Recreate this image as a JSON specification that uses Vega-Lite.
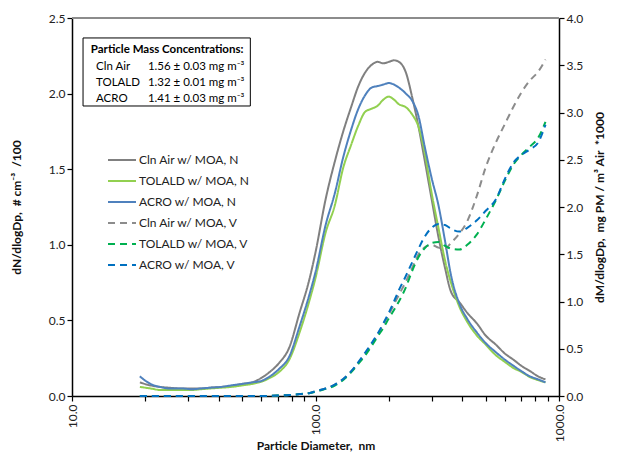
{
  "$schema": "https://vega.github.io/schema/vega-lite/v6.json",
  "width": 487,
  "height": 378,
  "autosize": {"type": "none"},
  "padding": {"left": 72, "top": 18, "right": 62, "bottom": 65},
  "background": "white",
  "config": {
    "view": {"stroke": null},
    "font": "Lato",
    "axis": {
      "domainColor": "black", "domainWidth": 1.5, "tickColor": "black", "tickWidth": 1.2, "tickSize": 5,
      "labelFont": "Lato", "labelFontSize": 12, "labelColor": "#222",
      "titleFont": "Lato", "titleFontSize": 12, "titleFontWeight": "bold", "titleColor": "#111",
      "grid": false, "labelOverlap": false, "labelBound": false, "labelFlush": false
    },
    "legend": {"labelFont": "Lato", "labelFontSize": 12, "labelColor": "#222"},
    "text": {"font": "Lato", "fontSize": 11.5, "align": "left", "baseline": "middle", "color": "black"}
  },
  "datasets": {
    "N": [
      {"d":19,"s":"Cln Air w/ MOA, N","v":0.09},{"d":21,"s":"Cln Air w/ MOA, N","v":0.07},{"d":23,"s":"Cln Air w/ MOA, N","v":0.06},{"d":25,"s":"Cln Air w/ MOA, N","v":0.055},{"d":28,"s":"Cln Air w/ MOA, N","v":0.05},{"d":31,"s":"Cln Air w/ MOA, N","v":0.05},{"d":34,"s":"Cln Air w/ MOA, N","v":0.05},{"d":37,"s":"Cln Air w/ MOA, N","v":0.055},{"d":41,"s":"Cln Air w/ MOA, N","v":0.06},{"d":45,"s":"Cln Air w/ MOA, N","v":0.065},{"d":50,"s":"Cln Air w/ MOA, N","v":0.08},{"d":55,"s":"Cln Air w/ MOA, N","v":0.09},{"d":60,"s":"Cln Air w/ MOA, N","v":0.12},{"d":65,"s":"Cln Air w/ MOA, N","v":0.16},{"d":71,"s":"Cln Air w/ MOA, N","v":0.22},{"d":78,"s":"Cln Air w/ MOA, N","v":0.32},{"d":86,"s":"Cln Air w/ MOA, N","v":0.55},{"d":94,"s":"Cln Air w/ MOA, N","v":0.76},{"d":100,"s":"Cln Air w/ MOA, N","v":0.95},{"d":110,"s":"Cln Air w/ MOA, N","v":1.3},{"d":120,"s":"Cln Air w/ MOA, N","v":1.55},{"d":130,"s":"Cln Air w/ MOA, N","v":1.75},{"d":140,"s":"Cln Air w/ MOA, N","v":1.91},{"d":150,"s":"Cln Air w/ MOA, N","v":2.05},{"d":160,"s":"Cln Air w/ MOA, N","v":2.14},{"d":170,"s":"Cln Air w/ MOA, N","v":2.19},{"d":180,"s":"Cln Air w/ MOA, N","v":2.21},{"d":190,"s":"Cln Air w/ MOA, N","v":2.2},{"d":200,"s":"Cln Air w/ MOA, N","v":2.21},{"d":210,"s":"Cln Air w/ MOA, N","v":2.22},{"d":220,"s":"Cln Air w/ MOA, N","v":2.21},{"d":235,"s":"Cln Air w/ MOA, N","v":2.14},{"d":250,"s":"Cln Air w/ MOA, N","v":1.97},{"d":265,"s":"Cln Air w/ MOA, N","v":1.78},{"d":280,"s":"Cln Air w/ MOA, N","v":1.57},{"d":300,"s":"Cln Air w/ MOA, N","v":1.3},{"d":320,"s":"Cln Air w/ MOA, N","v":1.05},{"d":340,"s":"Cln Air w/ MOA, N","v":0.85},{"d":360,"s":"Cln Air w/ MOA, N","v":0.69},{"d":390,"s":"Cln Air w/ MOA, N","v":0.62},{"d":420,"s":"Cln Air w/ MOA, N","v":0.55},{"d":460,"s":"Cln Air w/ MOA, N","v":0.48},{"d":500,"s":"Cln Air w/ MOA, N","v":0.4},{"d":550,"s":"Cln Air w/ MOA, N","v":0.34},{"d":600,"s":"Cln Air w/ MOA, N","v":0.28},{"d":650,"s":"Cln Air w/ MOA, N","v":0.24},{"d":700,"s":"Cln Air w/ MOA, N","v":0.2},{"d":760,"s":"Cln Air w/ MOA, N","v":0.165},{"d":820,"s":"Cln Air w/ MOA, N","v":0.13},{"d":880,"s":"Cln Air w/ MOA, N","v":0.11},

      {"d":19,"s":"TOLALD w/ MOA, N","v":0.06},{"d":21,"s":"TOLALD w/ MOA, N","v":0.05},{"d":23,"s":"TOLALD w/ MOA, N","v":0.04},{"d":25,"s":"TOLALD w/ MOA, N","v":0.04},{"d":28,"s":"TOLALD w/ MOA, N","v":0.04},{"d":31,"s":"TOLALD w/ MOA, N","v":0.04},{"d":34,"s":"TOLALD w/ MOA, N","v":0.045},{"d":37,"s":"TOLALD w/ MOA, N","v":0.05},{"d":41,"s":"TOLALD w/ MOA, N","v":0.055},{"d":45,"s":"TOLALD w/ MOA, N","v":0.06},{"d":50,"s":"TOLALD w/ MOA, N","v":0.07},{"d":55,"s":"TOLALD w/ MOA, N","v":0.08},{"d":60,"s":"TOLALD w/ MOA, N","v":0.095},{"d":65,"s":"TOLALD w/ MOA, N","v":0.12},{"d":71,"s":"TOLALD w/ MOA, N","v":0.16},{"d":78,"s":"TOLALD w/ MOA, N","v":0.24},{"d":86,"s":"TOLALD w/ MOA, N","v":0.42},{"d":94,"s":"TOLALD w/ MOA, N","v":0.62},{"d":100,"s":"TOLALD w/ MOA, N","v":0.78},{"d":110,"s":"TOLALD w/ MOA, N","v":1.08},{"d":120,"s":"TOLALD w/ MOA, N","v":1.26},{"d":130,"s":"TOLALD w/ MOA, N","v":1.51},{"d":140,"s":"TOLALD w/ MOA, N","v":1.66},{"d":150,"s":"TOLALD w/ MOA, N","v":1.79},{"d":160,"s":"TOLALD w/ MOA, N","v":1.88},{"d":170,"s":"TOLALD w/ MOA, N","v":1.9},{"d":180,"s":"TOLALD w/ MOA, N","v":1.92},{"d":190,"s":"TOLALD w/ MOA, N","v":1.96},{"d":200,"s":"TOLALD w/ MOA, N","v":1.98},{"d":210,"s":"TOLALD w/ MOA, N","v":1.96},{"d":220,"s":"TOLALD w/ MOA, N","v":1.93},{"d":235,"s":"TOLALD w/ MOA, N","v":1.91},{"d":250,"s":"TOLALD w/ MOA, N","v":1.86},{"d":265,"s":"TOLALD w/ MOA, N","v":1.78},{"d":280,"s":"TOLALD w/ MOA, N","v":1.62},{"d":300,"s":"TOLALD w/ MOA, N","v":1.34},{"d":320,"s":"TOLALD w/ MOA, N","v":1.11},{"d":340,"s":"TOLALD w/ MOA, N","v":0.9},{"d":360,"s":"TOLALD w/ MOA, N","v":0.75},{"d":390,"s":"TOLALD w/ MOA, N","v":0.59},{"d":420,"s":"TOLALD w/ MOA, N","v":0.49},{"d":460,"s":"TOLALD w/ MOA, N","v":0.4},{"d":500,"s":"TOLALD w/ MOA, N","v":0.34},{"d":550,"s":"TOLALD w/ MOA, N","v":0.27},{"d":600,"s":"TOLALD w/ MOA, N","v":0.225},{"d":650,"s":"TOLALD w/ MOA, N","v":0.185},{"d":700,"s":"TOLALD w/ MOA, N","v":0.16},{"d":760,"s":"TOLALD w/ MOA, N","v":0.125},{"d":820,"s":"TOLALD w/ MOA, N","v":0.105},{"d":880,"s":"TOLALD w/ MOA, N","v":0.09},

      {"d":19,"s":"ACRO w/ MOA, N","v":0.13},{"d":21,"s":"ACRO w/ MOA, N","v":0.08},{"d":23,"s":"ACRO w/ MOA, N","v":0.06},{"d":25,"s":"ACRO w/ MOA, N","v":0.05},{"d":28,"s":"ACRO w/ MOA, N","v":0.05},{"d":31,"s":"ACRO w/ MOA, N","v":0.045},{"d":34,"s":"ACRO w/ MOA, N","v":0.05},{"d":37,"s":"ACRO w/ MOA, N","v":0.055},{"d":41,"s":"ACRO w/ MOA, N","v":0.06},{"d":45,"s":"ACRO w/ MOA, N","v":0.07},{"d":50,"s":"ACRO w/ MOA, N","v":0.08},{"d":55,"s":"ACRO w/ MOA, N","v":0.09},{"d":60,"s":"ACRO w/ MOA, N","v":0.1},{"d":65,"s":"ACRO w/ MOA, N","v":0.13},{"d":71,"s":"ACRO w/ MOA, N","v":0.18},{"d":78,"s":"ACRO w/ MOA, N","v":0.26},{"d":86,"s":"ACRO w/ MOA, N","v":0.46},{"d":94,"s":"ACRO w/ MOA, N","v":0.66},{"d":100,"s":"ACRO w/ MOA, N","v":0.82},{"d":110,"s":"ACRO w/ MOA, N","v":1.13},{"d":120,"s":"ACRO w/ MOA, N","v":1.34},{"d":130,"s":"ACRO w/ MOA, N","v":1.58},{"d":140,"s":"ACRO w/ MOA, N","v":1.76},{"d":150,"s":"ACRO w/ MOA, N","v":1.9},{"d":160,"s":"ACRO w/ MOA, N","v":1.99},{"d":170,"s":"ACRO w/ MOA, N","v":2.04},{"d":180,"s":"ACRO w/ MOA, N","v":2.05},{"d":190,"s":"ACRO w/ MOA, N","v":2.06},{"d":200,"s":"ACRO w/ MOA, N","v":2.07},{"d":210,"s":"ACRO w/ MOA, N","v":2.06},{"d":220,"s":"ACRO w/ MOA, N","v":2.04},{"d":235,"s":"ACRO w/ MOA, N","v":2.0},{"d":250,"s":"ACRO w/ MOA, N","v":1.95},{"d":265,"s":"ACRO w/ MOA, N","v":1.85},{"d":280,"s":"ACRO w/ MOA, N","v":1.66},{"d":300,"s":"ACRO w/ MOA, N","v":1.44},{"d":320,"s":"ACRO w/ MOA, N","v":1.26},{"d":340,"s":"ACRO w/ MOA, N","v":1.03},{"d":360,"s":"ACRO w/ MOA, N","v":0.8},{"d":390,"s":"ACRO w/ MOA, N","v":0.61},{"d":420,"s":"ACRO w/ MOA, N","v":0.51},{"d":460,"s":"ACRO w/ MOA, N","v":0.42},{"d":500,"s":"ACRO w/ MOA, N","v":0.35},{"d":550,"s":"ACRO w/ MOA, N","v":0.29},{"d":600,"s":"ACRO w/ MOA, N","v":0.24},{"d":650,"s":"ACRO w/ MOA, N","v":0.2},{"d":700,"s":"ACRO w/ MOA, N","v":0.165},{"d":760,"s":"ACRO w/ MOA, N","v":0.13},{"d":820,"s":"ACRO w/ MOA, N","v":0.11},{"d":880,"s":"ACRO w/ MOA, N","v":0.09}
    ],
    "V": [
      {"d":19,"s":"Cln Air w/ MOA, V","v":0},{"d":30,"s":"Cln Air w/ MOA, V","v":0},{"d":45,"s":"Cln Air w/ MOA, V","v":0},{"d":60,"s":"Cln Air w/ MOA, V","v":0},{"d":71,"s":"Cln Air w/ MOA, V","v":0.005},{"d":78,"s":"Cln Air w/ MOA, V","v":0.01},{"d":86,"s":"Cln Air w/ MOA, V","v":0.02},{"d":94,"s":"Cln Air w/ MOA, V","v":0.03},{"d":100,"s":"Cln Air w/ MOA, V","v":0.05},{"d":110,"s":"Cln Air w/ MOA, V","v":0.08},{"d":120,"s":"Cln Air w/ MOA, V","v":0.12},{"d":130,"s":"Cln Air w/ MOA, V","v":0.18},{"d":140,"s":"Cln Air w/ MOA, V","v":0.26},{"d":150,"s":"Cln Air w/ MOA, V","v":0.35},{"d":160,"s":"Cln Air w/ MOA, V","v":0.45},{"d":170,"s":"Cln Air w/ MOA, V","v":0.55},{"d":180,"s":"Cln Air w/ MOA, V","v":0.65},{"d":190,"s":"Cln Air w/ MOA, V","v":0.76},{"d":200,"s":"Cln Air w/ MOA, V","v":0.86},{"d":210,"s":"Cln Air w/ MOA, V","v":0.97},{"d":220,"s":"Cln Air w/ MOA, V","v":1.07},{"d":235,"s":"Cln Air w/ MOA, V","v":1.21},{"d":250,"s":"Cln Air w/ MOA, V","v":1.36},{"d":265,"s":"Cln Air w/ MOA, V","v":1.5},{"d":280,"s":"Cln Air w/ MOA, V","v":1.57},{"d":300,"s":"Cln Air w/ MOA, V","v":1.6},{"d":320,"s":"Cln Air w/ MOA, V","v":1.57},{"d":340,"s":"Cln Air w/ MOA, V","v":1.56},{"d":360,"s":"Cln Air w/ MOA, V","v":1.62},{"d":390,"s":"Cln Air w/ MOA, V","v":1.72},{"d":420,"s":"Cln Air w/ MOA, V","v":1.85},{"d":460,"s":"Cln Air w/ MOA, V","v":2.12},{"d":500,"s":"Cln Air w/ MOA, V","v":2.42},{"d":550,"s":"Cln Air w/ MOA, V","v":2.68},{"d":600,"s":"Cln Air w/ MOA, V","v":2.88},{"d":650,"s":"Cln Air w/ MOA, V","v":3.06},{"d":700,"s":"Cln Air w/ MOA, V","v":3.21},{"d":760,"s":"Cln Air w/ MOA, V","v":3.34},{"d":820,"s":"Cln Air w/ MOA, V","v":3.43},{"d":880,"s":"Cln Air w/ MOA, V","v":3.56},

      {"d":19,"s":"TOLALD w/ MOA, V","v":0},{"d":30,"s":"TOLALD w/ MOA, V","v":0},{"d":45,"s":"TOLALD w/ MOA, V","v":0},{"d":60,"s":"TOLALD w/ MOA, V","v":0},{"d":71,"s":"TOLALD w/ MOA, V","v":0.005},{"d":78,"s":"TOLALD w/ MOA, V","v":0.01},{"d":86,"s":"TOLALD w/ MOA, V","v":0.02},{"d":94,"s":"TOLALD w/ MOA, V","v":0.03},{"d":100,"s":"TOLALD w/ MOA, V","v":0.045},{"d":110,"s":"TOLALD w/ MOA, V","v":0.075},{"d":120,"s":"TOLALD w/ MOA, V","v":0.11},{"d":130,"s":"TOLALD w/ MOA, V","v":0.17},{"d":140,"s":"TOLALD w/ MOA, V","v":0.25},{"d":150,"s":"TOLALD w/ MOA, V","v":0.34},{"d":160,"s":"TOLALD w/ MOA, V","v":0.43},{"d":170,"s":"TOLALD w/ MOA, V","v":0.53},{"d":180,"s":"TOLALD w/ MOA, V","v":0.63},{"d":190,"s":"TOLALD w/ MOA, V","v":0.72},{"d":200,"s":"TOLALD w/ MOA, V","v":0.82},{"d":210,"s":"TOLALD w/ MOA, V","v":0.91},{"d":220,"s":"TOLALD w/ MOA, V","v":1.0},{"d":235,"s":"TOLALD w/ MOA, V","v":1.15},{"d":250,"s":"TOLALD w/ MOA, V","v":1.33},{"d":265,"s":"TOLALD w/ MOA, V","v":1.47},{"d":280,"s":"TOLALD w/ MOA, V","v":1.56},{"d":300,"s":"TOLALD w/ MOA, V","v":1.62},{"d":320,"s":"TOLALD w/ MOA, V","v":1.63},{"d":340,"s":"TOLALD w/ MOA, V","v":1.59},{"d":360,"s":"TOLALD w/ MOA, V","v":1.56},{"d":390,"s":"TOLALD w/ MOA, V","v":1.55},{"d":420,"s":"TOLALD w/ MOA, V","v":1.6},{"d":460,"s":"TOLALD w/ MOA, V","v":1.71},{"d":500,"s":"TOLALD w/ MOA, V","v":1.87},{"d":550,"s":"TOLALD w/ MOA, V","v":2.07},{"d":600,"s":"TOLALD w/ MOA, V","v":2.28},{"d":650,"s":"TOLALD w/ MOA, V","v":2.45},{"d":700,"s":"TOLALD w/ MOA, V","v":2.55},{"d":760,"s":"TOLALD w/ MOA, V","v":2.64},{"d":820,"s":"TOLALD w/ MOA, V","v":2.73},{"d":880,"s":"TOLALD w/ MOA, V","v":2.9},

      {"d":19,"s":"ACRO w/ MOA, V","v":0},{"d":30,"s":"ACRO w/ MOA, V","v":0},{"d":45,"s":"ACRO w/ MOA, V","v":0},{"d":60,"s":"ACRO w/ MOA, V","v":0},{"d":71,"s":"ACRO w/ MOA, V","v":0.005},{"d":78,"s":"ACRO w/ MOA, V","v":0.01},{"d":86,"s":"ACRO w/ MOA, V","v":0.02},{"d":94,"s":"ACRO w/ MOA, V","v":0.03},{"d":100,"s":"ACRO w/ MOA, V","v":0.05},{"d":110,"s":"ACRO w/ MOA, V","v":0.08},{"d":120,"s":"ACRO w/ MOA, V","v":0.12},{"d":130,"s":"ACRO w/ MOA, V","v":0.18},{"d":140,"s":"ACRO w/ MOA, V","v":0.26},{"d":150,"s":"ACRO w/ MOA, V","v":0.36},{"d":160,"s":"ACRO w/ MOA, V","v":0.46},{"d":170,"s":"ACRO w/ MOA, V","v":0.56},{"d":180,"s":"ACRO w/ MOA, V","v":0.66},{"d":190,"s":"ACRO w/ MOA, V","v":0.77},{"d":200,"s":"ACRO w/ MOA, V","v":0.88},{"d":210,"s":"ACRO w/ MOA, V","v":1.0},{"d":220,"s":"ACRO w/ MOA, V","v":1.12},{"d":235,"s":"ACRO w/ MOA, V","v":1.27},{"d":250,"s":"ACRO w/ MOA, V","v":1.42},{"d":265,"s":"ACRO w/ MOA, V","v":1.56},{"d":280,"s":"ACRO w/ MOA, V","v":1.68},{"d":300,"s":"ACRO w/ MOA, V","v":1.78},{"d":320,"s":"ACRO w/ MOA, V","v":1.82},{"d":340,"s":"ACRO w/ MOA, V","v":1.81},{"d":360,"s":"ACRO w/ MOA, V","v":1.77},{"d":390,"s":"ACRO w/ MOA, V","v":1.74},{"d":420,"s":"ACRO w/ MOA, V","v":1.78},{"d":460,"s":"ACRO w/ MOA, V","v":1.86},{"d":500,"s":"ACRO w/ MOA, V","v":1.96},{"d":550,"s":"ACRO w/ MOA, V","v":2.08},{"d":600,"s":"ACRO w/ MOA, V","v":2.3},{"d":650,"s":"ACRO w/ MOA, V","v":2.47},{"d":700,"s":"ACRO w/ MOA, V","v":2.55},{"d":760,"s":"ACRO w/ MOA, V","v":2.61},{"d":820,"s":"ACRO w/ MOA, V","v":2.68},{"d":880,"s":"ACRO w/ MOA, V","v":2.87}
    ],
    "one": [{}]
  },
  "layer": [
    {
      "layer": [
        {
          "data": {"name": "one"},
          "mark": {"type": "rule", "color": "#8c8c8c", "strokeWidth": 2},
          "encoding": {"y": {"datum": 2.5, "type": "quantitative"}}
        },
        {
          "data": {"name": "one"},
          "mark": {"type": "rect", "fill": "white", "stroke": "black", "strokeWidth": 1},
          "encoding": {
            "x": {"datum": 11.1, "type": "quantitative"},
            "x2": {"datum": 54},
            "y": {"datum": 2.368, "type": "quantitative"},
            "y2": {"datum": 1.918}
          }
        },
        {
          "data": {"name": "one"},
          "mark": {"type": "text", "fontWeight": "bold", "text": "Particle Mass Concentrations:"},
          "encoding": {"x": {"datum": 11.95, "type": "quantitative"}, "y": {"datum": 2.288, "type": "quantitative"}}
        },
        {
          "data": {"name": "one"},
          "mark": {"type": "text", "text": "Cln Air"},
          "encoding": {"x": {"datum": 12.55, "type": "quantitative"}, "y": {"datum": 2.176, "type": "quantitative"}}
        },
        {
          "data": {"name": "one"},
          "mark": {"type": "text", "text": "TOLALD"},
          "encoding": {"x": {"datum": 12.55, "type": "quantitative"}, "y": {"datum": 2.07, "type": "quantitative"}}
        },
        {
          "data": {"name": "one"},
          "mark": {"type": "text", "text": "ACRO"},
          "encoding": {"x": {"datum": 12.55, "type": "quantitative"}, "y": {"datum": 1.964, "type": "quantitative"}}
        },
        {
          "data": {"name": "one"},
          "mark": {"type": "text", "text": "1.56 ± 0.03 mg m⁻³"},
          "encoding": {"x": {"datum": 20.5, "type": "quantitative"}, "y": {"datum": 2.176, "type": "quantitative"}}
        },
        {
          "data": {"name": "one"},
          "mark": {"type": "text", "text": "1.32 ± 0.01 mg m⁻³"},
          "encoding": {"x": {"datum": 20.5, "type": "quantitative"}, "y": {"datum": 2.07, "type": "quantitative"}}
        },
        {
          "data": {"name": "one"},
          "mark": {"type": "text", "text": "1.41 ± 0.03 mg m⁻³"},
          "encoding": {"x": {"datum": 20.5, "type": "quantitative"}, "y": {"datum": 1.964, "type": "quantitative"}}
        },
        {
          "data": {"name": "N"},
          "mark": {"type": "line", "strokeWidth": 2, "interpolate": "monotone"},
          "encoding": {
            "x": {
              "field": "d", "type": "quantitative",
              "scale": {"type": "log", "domain": [10, 1000], "nice": false},
              "axis": {
                "title": "Particle Diameter,\u00a0 nm",
                "values": [10, 20, 30, 40, 50, 60, 70, 80, 90, 100, 200, 300, 400, 500, 600, 700, 800, 900, 1000],
                "labelExpr": "(datum.value == 10 || datum.value == 100 || datum.value == 1000) ? format(datum.value, '.1f') : ''",
                "labelAngle": -90,
                "labelPadding": 3,
                "titlePadding": -1
              }
            },
            "y": {
              "field": "v", "type": "quantitative",
              "scale": {"domain": [0, 2.5], "nice": false},
              "axis": {
                "title": "dN/dlogDp,\u00a0 # cm⁻³\u00a0 /100",
                "values": [0, 0.5, 1, 1.5, 2, 2.5],
                "format": ".1f",
                "titlePadding": 25
              }
            },
            "color": {
              "field": "s", "type": "nominal",
              "scale": {
                "domain": ["Cln Air w/ MOA, N", "TOLALD w/ MOA, N", "ACRO w/ MOA, N", "Cln Air w/ MOA, V", "TOLALD w/ MOA, V", "ACRO w/ MOA, V"],
                "range": ["#808080", "#92d050", "#4f81bd", "#8c8c8c", "#00b050", "#0070c0"]
              },
              "legend": {"orient": "none", "legendX": 35, "legendY": 127, "title": null, "symbolType": "stroke", "symbolSize": 784, "symbolStrokeWidth": 2, "rowPadding": 0, "labelOffset": 2, "padding": 0, "labelLimit": 300}
            },
            "strokeDash": {
              "field": "s", "type": "nominal",
              "scale": {
                "domain": ["Cln Air w/ MOA, N", "TOLALD w/ MOA, N", "ACRO w/ MOA, N", "Cln Air w/ MOA, V", "TOLALD w/ MOA, V", "ACRO w/ MOA, V"],
                "range": [[1, 0], [1, 0], [1, 0], [7, 5], [7, 5], [7, 5]]
              },
              "legend": {"orient": "none", "legendX": 35, "legendY": 127, "title": null, "symbolType": "stroke", "symbolSize": 784, "symbolStrokeWidth": 2, "rowPadding": 0, "labelOffset": 2, "padding": 0, "labelLimit": 300}
            }
          }
        }
      ]
    },
    {
      "data": {"name": "V"},
      "mark": {"type": "line", "strokeWidth": 2, "interpolate": "monotone"},
      "encoding": {
        "x": {"field": "d", "type": "quantitative", "scale": {"type": "log", "domain": [10, 1000], "nice": false}},
        "y": {
          "field": "v", "type": "quantitative",
          "scale": {"domain": [0, 4], "nice": false},
          "axis": {
            "orient": "right",
            "title": "dM/dlogDp,\u00a0 mg PM / m³ Air\u00a0 *1000",
            "titleAngle": -90,
            "values": [0, 0.5, 1, 1.5, 2, 2.5, 3, 3.5, 4],
            "format": ".1f",
            "titlePadding": 24
          }
        },
        "color": {
          "field": "s", "type": "nominal",
          "scale": {
            "domain": ["Cln Air w/ MOA, N", "TOLALD w/ MOA, N", "ACRO w/ MOA, N", "Cln Air w/ MOA, V", "TOLALD w/ MOA, V", "ACRO w/ MOA, V"],
            "range": ["#808080", "#92d050", "#4f81bd", "#8c8c8c", "#00b050", "#0070c0"]
          },
          "legend": {"orient": "none", "legendX": 35, "legendY": 127, "title": null, "symbolType": "stroke", "symbolSize": 784, "symbolStrokeWidth": 2, "rowPadding": 0, "labelOffset": 2, "padding": 0, "labelLimit": 300}
        },
        "strokeDash": {
          "field": "s", "type": "nominal",
          "scale": {
            "domain": ["Cln Air w/ MOA, N", "TOLALD w/ MOA, N", "ACRO w/ MOA, N", "Cln Air w/ MOA, V", "TOLALD w/ MOA, V", "ACRO w/ MOA, V"],
            "range": [[1, 0], [1, 0], [1, 0], [7, 5], [7, 5], [7, 5]]
          },
          "legend": {"orient": "none", "legendX": 35, "legendY": 127, "title": null, "symbolType": "stroke", "symbolSize": 784, "symbolStrokeWidth": 2, "rowPadding": 0, "labelOffset": 2, "padding": 0, "labelLimit": 300}
        }
      }
    }
  ],
  "resolve": {"scale": {"y": "independent"}}
}
